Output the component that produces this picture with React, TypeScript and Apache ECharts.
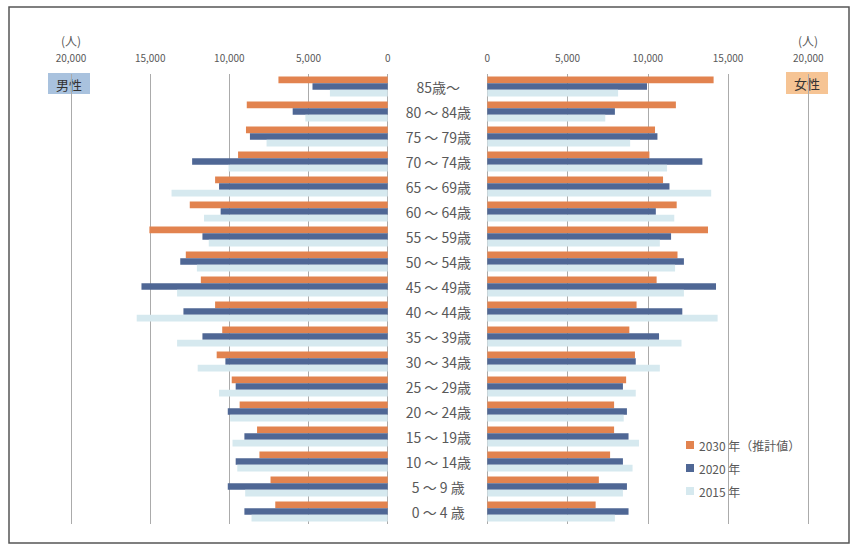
import React, { useEffect, useRef } from "react";
import * as echarts from "echarts";

const categories = [
  "85歳〜", "80 〜 84歳", "75 〜 79歳", "70 〜 74歳", "65 〜 69歳", "60 〜 64歳",
  "55 〜 59歳", "50 〜 54歳", "45 〜 49歳", "40 〜 44歳", "35 〜 39歳", "30 〜 34歳",
  "25 〜 29歳", "20 〜 24歳", "15 〜 19歳", "10 〜 14歳", "5 〜 9 歳", "0 〜 4 歳",
];

const seriesNames = ["2030 年（推計値）", "2020 年", "2015 年"];

// 男性
const male2030 = [6900, 8900, 8950, 9450, 10900, 12500, 15050, 12750, 11800, 10900, 10450, 10800, 9850, 9350, 8250, 8100, 7400, 7100];
const male2020 = [4750, 6000, 8700, 12350, 10650, 10550, 11700, 13100, 15550, 12900, 11700, 10250, 9600, 10100, 9050, 9600, 10100, 9050];
const male2015 = [3650, 5200, 7650, 10050, 13650, 11600, 11300, 12050, 13300, 15850, 13300, 12000, 10650, 9950, 9800, 9500, 9000, 8600];

// 女性
const female2030 = [14100, 11750, 10450, 10100, 10950, 11800, 13750, 11850, 10550, 9300, 8850, 9200, 8650, 7900, 7900, 7650, 6950, 6750];
const female2020 = [9950, 7950, 10600, 13400, 11350, 10500, 11450, 12250, 14250, 12150, 10700, 9250, 8450, 8700, 8800, 8450, 8700, 8800];
const female2015 = [8150, 7350, 8900, 11200, 13950, 11650, 10750, 11700, 12250, 14350, 12100, 10750, 9250, 8500, 9450, 9050, 8450, 7950];

const tickValues = [0, 5000, 10000, 15000, 20000];

const colors = ["#E2834F", "#4F6795", "#D6E9EF"];

const FONT = "'Noto Sans CJK JP', 'Noto Sans', sans-serif";

export default function App() {
  const ref = useRef<HTMLDivElement>(null);

  useEffect(() => {
    if (!ref.current) return;
    const chart = echarts.init(ref.current, undefined, { renderer: "svg" });

    const fmt = (v: number) => v.toLocaleString("en-US");
    const maleData = [male2030, male2020, male2015];
    const femaleData = [female2030, female2020, female2015];

    const xAxisCommon = {
      type: "value" as const,
      min: tickValues[0],
      max: tickValues[tickValues.length - 1],
      interval: tickValues[1] - tickValues[0],
      position: "top" as const,
      axisLine: { show: false },
      axisTick: { show: false },
      axisLabel: { color: "#595959", fontSize: 10, fontFamily: FONT, formatter: fmt, margin: 12 },
      splitLine: { show: true, lineStyle: { color: "#ababab", width: 1 } },
    };

    const series: any[] = [];
    seriesNames.forEach((name, i) => {
      series.push({
        name,
        type: "bar",
        xAxisIndex: 0,
        yAxisIndex: 0,
        data: maleData[i],
        barCategoryGap: "20%",
        barGap: "0%",
        itemStyle: { color: colors[i] },
      });
    });
    seriesNames.forEach((name, i) => {
      series.push({
        name,
        type: "bar",
        xAxisIndex: 1,
        yAxisIndex: 1,
        data: femaleData[i],
        barCategoryGap: "20%",
        barGap: "0%",
        itemStyle: { color: colors[i] },
      });
    });

    chart.setOption({
      animation: false,
      backgroundColor: "#ffffff",
      textStyle: { fontFamily: FONT },
      grid: [
        { left: 71, right: 852 - 387.7, top: 74, bottom: 22 },
        { left: 487.3, right: 852 - 808.3, top: 74, bottom: 22 },
      ],
      xAxis: [
        { ...xAxisCommon, gridIndex: 0, inverse: true },
        { ...xAxisCommon, gridIndex: 1 },
      ],
      yAxis: [
        {
          type: "category",
          gridIndex: 0,
          data: categories,
          inverse: true,
          axisLine: { show: false },
          axisTick: { show: false },
          axisLabel: { show: false },
        },
        {
          type: "category",
          gridIndex: 1,
          data: categories,
          inverse: true,
          position: "left",
          axisLine: { show: false },
          axisTick: { show: false },
          axisLabel: {
            show: true,
            color: "#595959",
            fontSize: 14,
            fontFamily: FONT,
            align: "center",
            margin: 49,
          },
        },
      ],
      legend: {
        orient: "vertical",
        left: 681,
        top: 434,
        itemWidth: 8,
        itemHeight: 8,
        itemGap: 11,
        icon: "rect",
        data: seriesNames,
        textStyle: { color: "#595959", fontSize: 12, fontFamily: FONT },
      },
      graphic: [
        {
          type: "rect",
          shape: { x: 9, y: 7, width: 840, height: 536 },
          style: { fill: "none", stroke: "#555555", lineWidth: 1.5 },
          z: 100,
        },
        {
          type: "text",
          x: 71,
          y: 40,
          style: { text: "(人)", fill: "#595959", fontSize: 12, fontFamily: FONT, align: "center", verticalAlign: "middle" },
        },
        {
          type: "text",
          x: 808,
          y: 40,
          style: { text: "(人)", fill: "#595959", fontSize: 12, fontFamily: FONT, align: "center", verticalAlign: "middle" },
        },
        {
          type: "group",
          z: 100,
          children: [
            {
              type: "rect",
              shape: { x: 48, y: 73, width: 42, height: 21 },
              style: { fill: "#A9C2DE" },
            },
            {
              type: "text",
              x: 69,
              y: 84,
              style: { text: "男性", fill: "#333333", fontSize: 13, fontFamily: FONT, align: "center", verticalAlign: "middle" },
            },
            {
              type: "rect",
              shape: { x: 786, y: 72, width: 42, height: 22 },
              style: { fill: "#F6C494" },
            },
            {
              type: "text",
              x: 807,
              y: 83,
              style: { text: "女性", fill: "#333333", fontSize: 13, fontFamily: FONT, align: "center", verticalAlign: "middle" },
            },
          ],
        },
      ],
      series,
    });

    return () => chart.dispose();
  }, []);

  return <div ref={ref} style={{ width: 852, height: 546, position: "absolute", left: 0, top: 0 }} />;
}
